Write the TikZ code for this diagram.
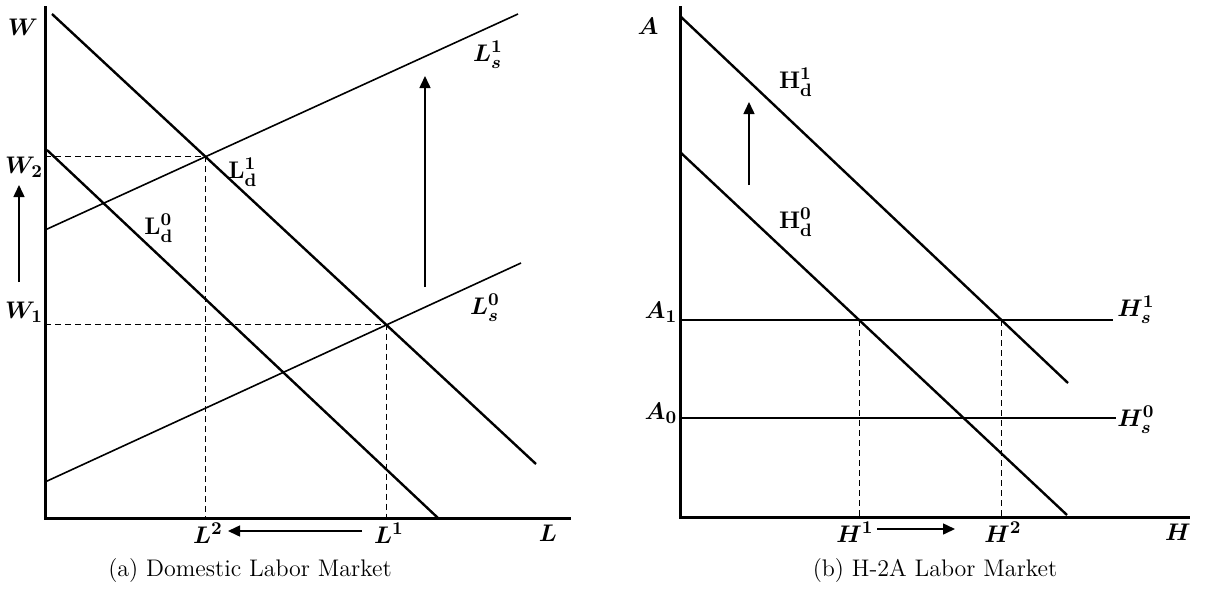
\documentclass[tikz,border=0pt]{standalone}
\usepackage{amsmath, amssymb}
\usepackage{tikz}
\usetikzlibrary{arrows.meta}
\tikzset{
  axisline/.style={line width=1.5pt, line cap=rect},
  demand/.style={line width=1.2pt},
  supply/.style={line width=0.8pt},
  hsupply/.style={line width=1.2pt},
  guide/.style={dash pattern=on 3pt off 2pt, line width=0.55pt},
  shiftarrow/.style={-{Triangle[length=6pt, width=5.5pt]}, line width=0.75pt},
  axlabel/.style={font=\fontsize{12.5}{15}\selectfont\boldmath, inner sep=1pt},
  caption/.style={font=\fontsize{12}{14}\selectfont, inner sep=1pt}
}

\begin{document}
\begin{tikzpicture}[x=0.5pt, y=-0.5pt]

\useasboundingbox (0,0) rectangle (1206,590);

% (a) Domestic labour market: axes
\coordinate (o1) at (45,518);
\coordinate (wtop) at (45,7);
\coordinate (lend) at (569,518);
\draw[axisline] (wtop) -- (o1) -- (lend);

% Demand and supply curves
\coordinate (ld1a) at (52,14);  \coordinate (ld1b) at (536,464);
\coordinate (ld0a) at (47,150); \coordinate (ld0b) at (438,518);
\coordinate (ls0a) at (45,482); \coordinate (ls0b) at (521,263);
\coordinate (ls1a) at (45,230); \coordinate (ls1b) at (518,14);
\draw[demand] (ld1a) -- (ld1b);
\draw[demand] (ld0a) -- (ld0b);
\draw[supply] (ls0a) -- (ls0b);
\draw[supply] (ls1a) -- (ls1b);

% Equilibria
\coordinate (eqa1) at (intersection of ld1a--ld1b and ls0a--ls0b);
\coordinate (eqa2) at (intersection of ld1a--ld1b and ls1a--ls1b);
\draw[guide] (eqa2 -| o1) -- (eqa2) -- (eqa2 |- o1);
\draw[guide] (eqa1 -| o1) -- (eqa1) -- (eqa1 |- o1);

% Labels
\node[axlabel] (wlab)  at (23,27)  {$W$};
\node[axlabel] (w2lab) at (24,167) {$W_2$};
\node[axlabel] (w1lab) at (24,312) {$W_1$};
\node[axlabel] (ld1lab) at (243,172) {$\mathbf{L}_{\mathbf{d}}^{1}$};
\node[axlabel] (ld0lab) at (159,228) {$\mathbf{L}_{\mathbf{d}}^{0}$};
\node[axlabel] (ls1lab) at (488,55)  {$L_s^1$};
\node[axlabel] (ls0lab) at (485,308) {$L_s^0$};
\node[axlabel] (l2lab) at (208,533) {$L^2$};
\node[axlabel] (l1lab) at (389,533) {$L^1$};
\node[axlabel] (llab)  at (548,533) {$L$};

% Shifts
\coordinate (wup0) at (19,282);  \coordinate (wup1) at (19,185);
\coordinate (sup0) at (425,287); \coordinate (sup1) at (425,76);
\coordinate (lsh0) at (362,531); \coordinate (lsh1) at (228,531);
\draw[shiftarrow] (wup0) -- (wup1);
\draw[shiftarrow] (sup0) -- (sup1);
\draw[shiftarrow] (lsh0) -- (lsh1);

\node[caption] (capa) at (250,571) {(a) Domestic Labor Market};

% (b) H-2A labour market: axes
\coordinate (o2) at (680,517);
\coordinate (atop) at (680,7);
\coordinate (hend) at (1188,517);
\draw[axisline] (atop) -- (o2) -- (hend);

\coordinate (hd1a) at (680,16);  \coordinate (hd1b) at (1068,383);
\coordinate (hd0a) at (680,152); \coordinate (hd0b) at (1067,515);
\coordinate (hs1a) at (680,320); \coordinate (hs1b) at (1113,320);
\coordinate (hs0a) at (680,418); \coordinate (hs0b) at (1116,418);
\draw[demand] (hd1a) -- (hd1b);
\draw[demand] (hd0a) -- (hd0b);
\draw[hsupply] (hs1a) -- (hs1b);
\draw[hsupply] (hs0a) -- (hs0b);

\coordinate (eqb1) at (intersection of hd0a--hd0b and hs1a--hs1b);
\coordinate (eqb2) at (intersection of hd1a--hd1b and hs1a--hs1b);
\draw[guide] (eqb1) -- (eqb1 |- o2);
\draw[guide] (eqb2) -- (eqb2 |- o2);

\node[axlabel] (alab)  at (648,26)  {$A$};
\node[axlabel] (a1lab) at (661,312) {$A_1$};
\node[axlabel] (a0lab) at (661,413) {$A_0$};
\node[axlabel] (hd1lab) at (796,82)  {$\mathbf{H}_{\mathbf{d}}^{1}$};
\node[axlabel] (hd0lab) at (796,222) {$\mathbf{H}_{\mathbf{d}}^{0}$};
\node[axlabel] (hs1lab) at (1136,310) {$H_s^1$};
\node[axlabel] (hs0lab) at (1136,420) {$H_s^0$};
\node[axlabel] (h1lab) at (855,532)  {$H^1$};
\node[axlabel] (h2lab) at (1003,532) {$H^2$};
\node[axlabel] (hlab)  at (1178,532) {$H$};

\coordinate (dup0) at (749,185); \coordinate (dup1) at (749,102);
\coordinate (hsh0) at (877,529); \coordinate (hsh1) at (955,529);
\draw[shiftarrow] (dup0) -- (dup1);
\draw[shiftarrow] (hsh0) -- (hsh1);

\node[caption] (capb) at (935,571) {(b) H-2A Labor Market};

\end{tikzpicture}
\end{document}
